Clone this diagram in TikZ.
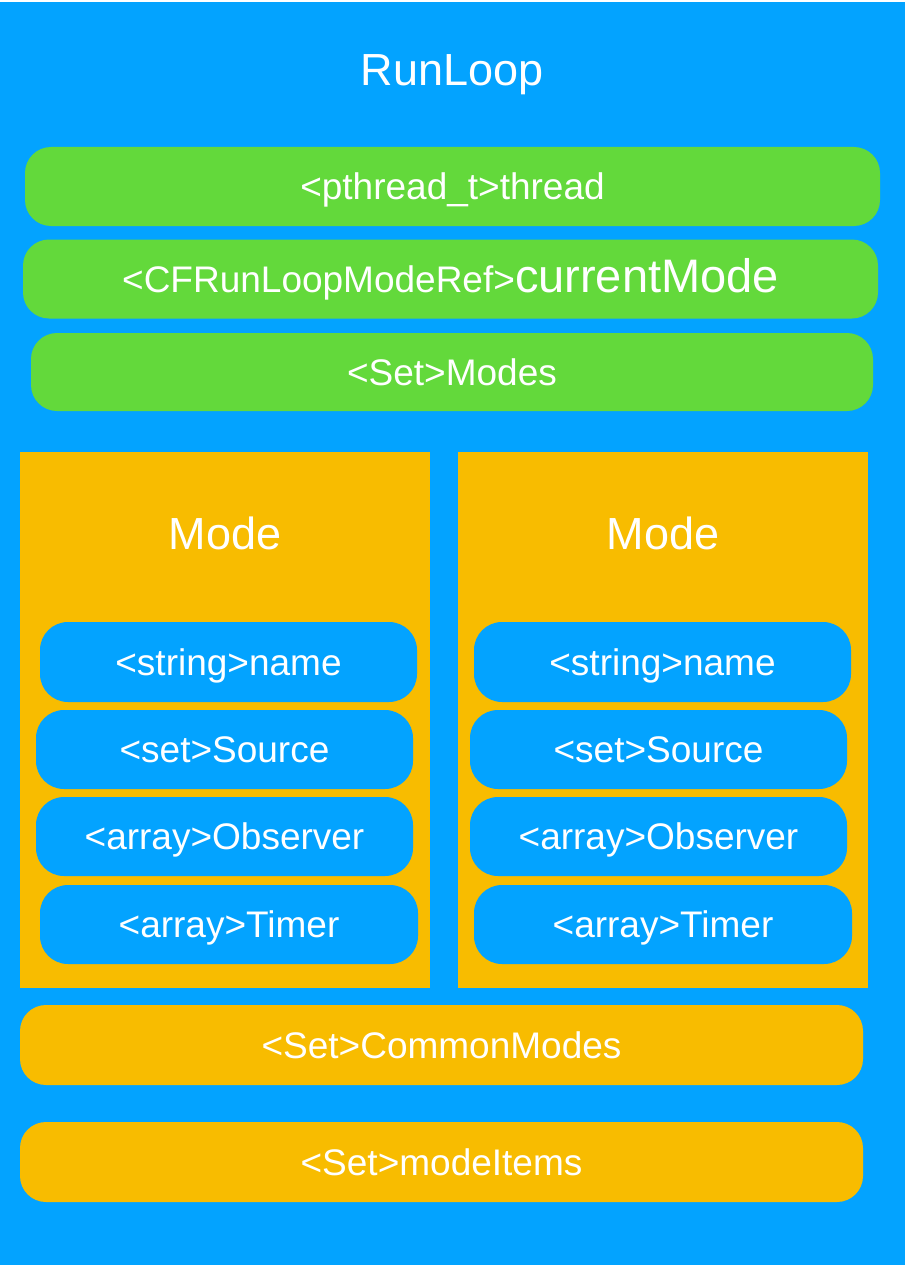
\documentclass[tikz,border=0pt]{standalone}
\usepackage{fontspec}
\setmainfont{Liberation Sans}
\definecolor{rlblue}{RGB}{3,163,255}
\definecolor{rlgreen}{RGB}{99,217,59}
\definecolor{rlorange}{RGB}{248,188,0}
\begin{document}
\begin{tikzpicture}[x=1pt,y=-1pt,
  lbl/.style={text=white,inner sep=0pt,outer sep=0pt,text height=26.5pt,text depth=0pt,font=\fontsize{37}{40}\selectfont},
  ttl/.style={lbl,text height=32pt,font=\fontsize{45}{50}\selectfont},
  greenbar/.style={lbl,fill=rlgreen,rounded corners=26pt,minimum width=855pt,minimum height=79pt},
  orangebar/.style={lbl,fill=rlorange,rounded corners=26pt,minimum width=843pt,minimum height=80pt},
  modebox/.style={fill=rlorange,inner sep=0pt,outer sep=0pt,minimum width=410pt,minimum height=536pt},
  pill/.style={lbl,fill=rlblue,rounded corners=28pt,minimum width=377pt,minimum height=79pt}]
\useasboundingbox (0,0) rectangle (908,1268);
\fill[white] (0,0) rectangle (908,1268);
\fill[rlblue] (0,2) rectangle (905,1265);
\node[ttl] (title) at (452,70) {RunLoop};
\node[greenbar] (thread) at (452.5,186.5) {<pthread\_t>thread};
\node[greenbar] (cur) at (450.5,279) {<CFRunLoopModeRef>{\fontsize{47}{50}\selectfont currentMode}};
\node[greenbar,minimum width=842pt,minimum height=78pt] (modes) at (452,372) {<Set>Modes};
\node[modebox] (modeL) at (225,720) {};
\node[modebox] (modeR) at (663,720) {};
\node[ttl] (modeLt) at (225,533) {Mode};
\node[ttl] (modeRt) at (663,533) {Mode};
\node[pill,minimum height=80pt] (nameL) at (228.5,662) {<string>name};
\node[pill] (sourceL) at (224.5,749.5) {<set>Source};
\node[pill] (obsL) at (224.5,836.5) {<array>Observer};
\node[pill,minimum width=378pt] (timerL) at (229,924.5) {<array>Timer};
\node[pill,minimum height=80pt] (nameR) at (662.5,662) {<string>name};
\node[pill] (sourceR) at (658.5,749.5) {<set>Source};
\node[pill] (obsR) at (658.5,836.5) {<array>Observer};
\node[pill,minimum width=378pt] (timerR) at (663,924.5) {<array>Timer};
\node[orangebar] (common) at (441.5,1045) {<Set>CommonModes};
\node[orangebar] (items) at (441.5,1162) {<Set>modeItems};
\end{tikzpicture}
\end{document}
